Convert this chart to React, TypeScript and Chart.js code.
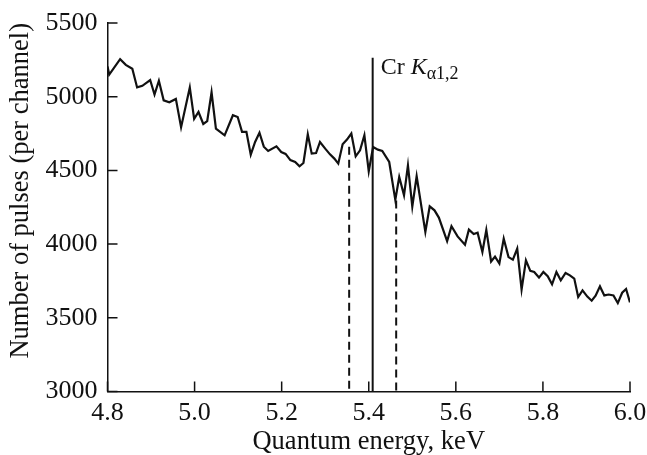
import React, { useEffect, useRef } from "react";
import { Chart, registerables } from "chart.js";

Chart.register(...registerables);

// Quantum energy, keV
const energies = [
  4.800, 4.804, 4.829, 4.842, 4.857, 4.868, 4.880, 4.898, 4.908, 4.918,
  4.929, 4.942, 4.957, 4.969, 4.989, 4.999, 5.009, 5.020, 5.029, 5.039,
  5.049, 5.069, 5.088, 5.099, 5.109, 5.119, 5.129, 5.139, 5.149, 5.159,
  5.169, 5.188, 5.199, 5.209, 5.220, 5.231, 5.241, 5.250, 5.260, 5.269,
  5.279, 5.288, 5.300, 5.311, 5.321, 5.330, 5.340, 5.350, 5.360, 5.370,
  5.380, 5.390, 5.400, 5.410, 5.421, 5.431, 5.447, 5.461, 5.470, 5.481,
  5.490, 5.500, 5.510, 5.530, 5.540, 5.551, 5.561, 5.580, 5.590, 5.604,
  5.621, 5.630, 5.641, 5.650, 5.661, 5.670, 5.681, 5.690, 5.700, 5.710,
  5.721, 5.731, 5.741, 5.751, 5.761, 5.771, 5.780, 5.791, 5.801, 5.811,
  5.821, 5.831, 5.841, 5.852, 5.862, 5.872, 5.881, 5.891, 5.902, 5.912,
  5.921, 5.931, 5.941, 5.951, 5.962, 5.972, 5.982, 5.991, 6.000,
];

// Number of pulses per channel
const counts = [
  5205, 5150, 5255, 5216, 5190, 5063, 5074, 5113, 5015, 5108,
  4975, 4962, 4985, 4793, 5063, 4849, 4896, 4815, 4834, 5030,
  4783, 4738, 4874, 4862, 4762, 4762, 4607, 4693, 4756, 4661,
  4632, 4663, 4625, 4612, 4570, 4557, 4528, 4550, 4745, 4614,
  4618, 4693, 4648, 4609, 4580, 4546, 4677, 4709, 4750, 4595,
  4636, 4738, 4494, 4659, 4641, 4632, 4557, 4300, 4455, 4331,
  4534, 4254, 4460, 4082, 4256, 4229, 4180, 4020, 4121, 4052,
  3995, 4098, 4068, 4077, 3946, 4096, 3882, 3915, 3868, 4037,
  3912, 3894, 3969, 3691, 3890, 3818, 3811, 3773, 3811, 3782,
  3727, 3811, 3754, 3804, 3788, 3766, 3641, 3686, 3644, 3616,
  3650, 3713, 3652, 3658, 3652, 3600, 3670, 3695, 3605,
];

const xTickValues = [4.8, 5.0, 5.2, 5.4, 5.6, 5.8, 6.0];
const yTickValues = [3000, 3500, 4000, 4500, 5000, 5500];

// Vertical marker lines: left bound, Cr K-alpha line, right bound
const markerEnergies = [5.355, 5.409, 5.463];
const markerTops = [4660, 5265, 4295];
const markerDashed = [true, false, true];
const markerBase = 3000;

const xTitle = "Quantum energy, keV";
const yTitle = "Number of pulses (per channel)";
const peakElement = "Cr ";
const peakSymbol = "K";
const peakSub = "\u03b11,2";

const SERIF = "'Liberation Serif', 'Times New Roman', serif";
const INK = "#111111";

export default function App() {
  const canvasRef = useRef<HTMLCanvasElement | null>(null);

  useEffect(() => {
    document.body.style.margin = "0";
    const canvas = canvasRef.current;
    if (!canvas) return;

    const innerTicks = {
      id: "innerTicks",
      afterDraw(chart: any) {
        const { ctx, chartArea, scales } = chart;
        const xs = scales.x;
        const ys = scales.y;
        ctx.save();
        ctx.strokeStyle = INK;
        ctx.lineWidth = 1.5;
        ctx.beginPath();
        for (const v of xTickValues) {
          const px = xs.getPixelForValue(v);
          ctx.moveTo(px, chartArea.bottom);
          ctx.lineTo(px, chartArea.bottom - 10);
        }
        for (const v of yTickValues) {
          const py = ys.getPixelForValue(v);
          ctx.moveTo(chartArea.left, py);
          ctx.lineTo(chartArea.left + 10, py);
        }
        ctx.stroke();

        const lx = xs.getPixelForValue(markerEnergies[1]) + 8;
        const ly = ys.getPixelForValue(markerTops[1]) + 16;
        ctx.fillStyle = INK;
        ctx.textBaseline = "alphabetic";
        ctx.textAlign = "left";
        ctx.font = `24px ${SERIF}`;
        ctx.fillText(peakElement, lx, ly);
        let w = ctx.measureText(peakElement).width;
        ctx.font = `italic 24px ${SERIF}`;
        ctx.fillText(peakSymbol, lx + w, ly);
        w += ctx.measureText(peakSymbol).width;
        ctx.font = `18px ${SERIF}`;
        ctx.fillText(peakSub, lx + w, ly + 5);
        ctx.restore();
      },
    };

    const markerSets = markerEnergies.map((e, i) => ({
      data: [
        { x: e, y: markerTops[i] },
        { x: e, y: markerBase },
      ],
      borderColor: INK,
      borderWidth: 2,
      borderDash: markerDashed[i] ? [8, 5] : [],
      pointRadius: 0,
      showLine: true,
      tension: 0,
    }));

    const chart = new Chart(canvas, {
      type: "scatter",
      data: {
        datasets: [
          {
            data: energies.map((e, i) => ({ x: e, y: counts[i] })),
            borderColor: INK,
            borderWidth: 2.2,
            pointRadius: 0,
            showLine: true,
            tension: 0,
            borderJoinStyle: "miter",
          },
          ...markerSets,
        ],
      },
      options: {
        animation: false,
        responsive: true,
        maintainAspectRatio: false,
        layout: { padding: { top: 23, right: 17, bottom: 0, left: 0 } },
        plugins: {
          legend: { display: false },
          tooltip: { enabled: false },
        },
        scales: {
          x: {
            type: "linear",
            min: 4.8,
            max: 6.0,
            afterBuildTicks: (scale: any) => {
              scale.ticks = xTickValues.map((v) => ({ value: v }));
            },
            afterFit: (scale: any) => {
              scale.height = 63.5;
              scale.paddingLeft = 0;
              scale.paddingRight = 0;
            },
            grid: { display: false, drawTicks: false },
            border: { display: true, color: INK, width: 1.5 },
            ticks: {
              color: INK,
              padding: 6,
              maxRotation: 0,
              font: { family: SERIF, size: 26 },
              callback: (v: any) => Number(v).toFixed(1),
            },
            title: {
              display: true,
              text: xTitle,
              color: INK,
              font: { family: SERIF, size: 26.5 },
              padding: { top: 0, bottom: -3 },
            },
          },
          y: {
            type: "linear",
            min: 3000,
            max: 5500,
            afterBuildTicks: (scale: any) => {
              scale.ticks = yTickValues.map((v) => ({ value: v }));
            },
            afterFit: (scale: any) => {
              scale.width = 107.5;
              scale.paddingTop = 0;
              scale.paddingBottom = 0;
            },
            grid: { display: false, drawTicks: false },
            border: { display: true, color: INK, width: 1.5 },
            ticks: {
              color: INK,
              padding: 10,
              font: { family: SERIF, size: 26 },
              callback: (v: any) => String(v),
            },
            title: {
              display: true,
              text: yTitle,
              color: INK,
              align: "end",
              font: { family: SERIF, size: 26.5 },
              padding: { top: 5, bottom: 0 },
            },
          },
        },
      },
      plugins: [innerTicks],
    } as any);

    return () => chart.destroy();
  }, []);

  return (
    <div style={{ width: 647, height: 455, position: "relative" }}>
      <canvas ref={canvasRef} />
    </div>
  );
}
